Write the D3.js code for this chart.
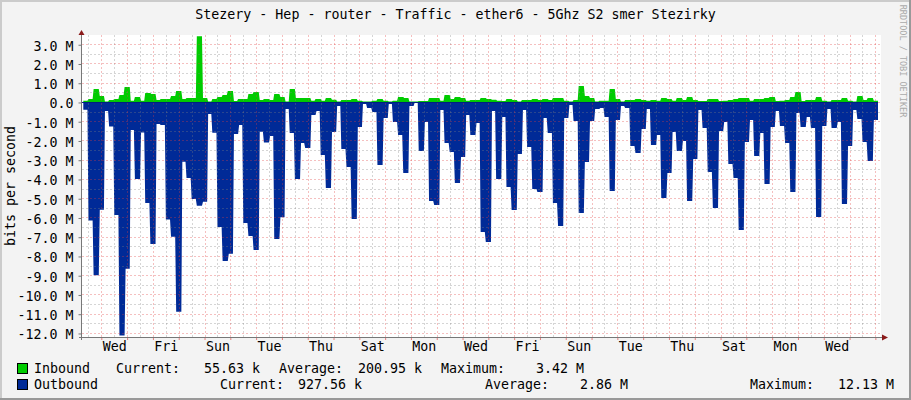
<!DOCTYPE html>
<html>
<head>
<meta charset="utf-8">
<script src="https://cdnjs.cloudflare.com/ajax/libs/d3/7.8.5/d3.min.js"></script>
<style>
  html, body { margin: 0; padding: 0; background: #f3f3f3; }
  svg { display: block; }
  text { font-family: "DejaVu Sans Mono", monospace; font-size: 13.3px; fill: #000; }
</style>
</head>
<body>
<script>
"use strict";

const title = 'Stezery - Hep - router - Traffic - ether6 - 5Ghz S2 smer Stezirky';
const yLabel = 'bits per second';
const watermark = 'RRDTOOL / TOBI OETIKER';

// values in Mbit/s, one per 4.8 hour step
const inbound = [
  0.07, 0.16, 0.68, 0.31, 0.02, 0.10, 0.16, 0.36, 0.78, 0.07, 0.26, 0.07, 0.47, 0.42, 0.10, 0.16,
  0.16, 0.31, 0.57, 0.16, 0.21, 0.21, 3.42, 0.21, 0.03, 0.16, 0.26, 0.36, 0.57, 0.05, 0.16, 0.16,
  0.42, 0.52, 0.10, 0.16, 0.10, 0.42, 0.26, 0.03, 0.68, 0.21, 0.21, 0.21, 0.07, 0.16, 0.07, 0.21,
  0.12, 0.03, 0.10, 0.10, 0.16, 0.07, 0.02, 0.02, 0.07, 0.16, 0.07, 0.02, 0.07, 0.26, 0.21, 0.02,
  0.02, 0.05, 0.05, 0.21, 0.21, 0.07, 0.36, 0.16, 0.26, 0.21, 0.07, 0.10, 0.10, 0.21, 0.16, 0.12,
  0.07, 0.05, 0.16, 0.10, 0.03, 0.10, 0.10, 0.16, 0.10, 0.16, 0.10, 0.21, 0.21, 0.07, 0.02, 0.10,
  0.83, 0.31, 0.21, 0.03, 0.07, 0.07, 0.68, 0.16, 0.03, 0.10, 0.10, 0.16, 0.10, 0.07, 0.10, 0.07,
  0.21, 0.16, 0.07, 0.21, 0.10, 0.26, 0.10, 0.05, 0.05, 0.16, 0.16, 0.05, 0.07, 0.10, 0.16, 0.21,
  0.21, 0.07, 0.16, 0.16, 0.21, 0.26, 0.05, 0.07, 0.10, 0.26, 0.52, 0.05, 0.10, 0.10, 0.26, 0.07,
  0.02, 0.10, 0.10, 0.21, 0.07, 0.02, 0.31, 0.10, 0.21, 0.06
];

const outbound = [
  -0.40, -6.16, -9.00, -5.60, -0.47, -1.28, -5.87, -12.13, -8.66, -1.45, -4.00, -1.58, -5.25, -7.38, -1.14, -1.19,
  -6.11, -7.00, -10.90, -3.10, -3.95, -5.04, -5.39, -5.18, -0.62, -1.60, -6.50, -8.26, -7.88, -1.66, -1.19, -6.29,
  -6.96, -7.69, -1.54, -2.11, -1.77, -7.12, -5.99, -0.36, -1.61, -4.00, -2.13, -2.39, -0.68, -0.47, -2.75, -4.47,
  -1.56, -0.21, -2.44, -3.38, -6.08, -1.30, -0.10, -0.31, -0.52, -3.27, -0.83, -0.10, -1.04, -1.71, -3.69, -0.21,
  -0.05, -2.55, -1.04, -5.14, -5.35, -0.42, -2.13, -2.60, -4.21, -2.86, -0.68, -1.71, -1.09, -6.75, -7.27, -0.47,
  -4.00, -0.78, -4.42, -5.61, -2.70, -0.42, -2.34, -4.52, -4.68, -0.83, -1.61, -5.25, -6.44, -0.83, -0.16, -0.99,
  -5.77, -3.12, -0.99, -0.36, -0.31, -0.78, -4.62, -0.94, -0.21, -0.31, -2.29, -2.65, -1.40, -0.36, -2.23, -1.71,
  -4.99, -3.69, -1.56, -2.55, -2.03, -5.14, -2.96, -0.42, -1.35, -3.64, -5.51, -1.51, -1.04, -3.22, -3.95, -6.65,
  -2.08, -0.94, -2.81, -1.61, -4.26, -1.30, -0.47, -1.25, -2.13, -4.68, -0.57, -1.30, -0.78, -1.35, -5.97, -1.25,
  -0.36, -1.35, -1.04, -5.30, -2.29, -0.42, -0.88, -2.08, -3.06, -0.93
];

const yMajor = d3.range(-12, 4);
const yMinor = d3.range(-12, 3.5, 0.5).filter(v => !Number.isInteger(v));
const dayLabels = ['Wed', 'Fri', 'Sun', 'Tue', 'Thu', 'Sat', 'Mon', 'Wed', 'Fri', 'Sun', 'Tue', 'Thu', 'Sat', 'Mon', 'Wed'];

const width = 911, height = 400;
const plot = {left: 82, right: 881, top: 35, bottom: 337};
const stepsPerDay = 5;
const firstMidnight = 3.49; // in steps from the start of the data

const x = d3.scaleLinear().domain([0, inbound.length]).range([83.3, 878]);
const y = d3.scaleLinear().domain([-12.21, 3.48]).range([plot.bottom, plot.top]);

const midnights = d3.range(0, 31).map(d => firstMidnight + d * stepsPerDay);
const noons = midnights.map(d => d - stepsPerDay / 2).filter(d => x(d) > plot.left)
  .concat([firstMidnight + 30.5 * stepsPerDay].filter(d => x(d) < plot.right));
const labelSteps = dayLabels.map((d, i) => firstMidnight + stepsPerDay / 2 + i * 2 * stepsPerDay);

let svg = d3.select('body').append('svg')
  .attr('width', width)
  .attr('height', height);

// canvas and frame
svg.append('rect').attr('width', width).attr('height', height).attr('fill', '#f3f3f3');
svg.append('path').attr('d', `M0,${height}V0H${width}`).attr('transform', 'translate(1,1)')
  .attr('fill', 'none').attr('stroke', '#cbcbcb').attr('stroke-width', 2);
svg.append('path').attr('d', `M${width},0V${height}H0`).attr('transform', 'translate(-1,-1)')
  .attr('fill', 'none').attr('stroke', '#999').attr('stroke-width', 2);

svg.append('rect')
  .attr('x', plot.left).attr('y', plot.top)
  .attr('width', plot.right - plot.left).attr('height', plot.bottom - plot.top)
  .attr('fill', '#fff');

// areas, the larger step keeps its width and the edge fades out over a pixel on the smaller side
function drawArea(values, colour)
{
  let area = d3.area()
    .x(d => d.px)
    .y0(y(0))
    .y1(d => y(d.v));
  let points = [];
  values.forEach((v, i) => {
    let prev = i ? values[i - 1] : 0;
    let next = i < values.length - 1 ? values[i + 1] : 0;
    points.push({px: x(i) + (i && Math.abs(prev) > Math.abs(v) ? 1 : 0), v: v});
    points.push({px: x(i + 1) - (i < values.length - 1 && Math.abs(next) > Math.abs(v) ? 1 : 0), v: v});
  });
  svg.append('path').attr('d', area(points)).attr('fill', colour);
}

drawArea(outbound, '#002a97');
drawArea(inbound, '#00cc00');

// grid goes over the data
function gridH(values, colour, dash)
{
  svg.append('g').selectAll('line').data(values).enter().append('line')
    .attr('x1', plot.left).attr('x2', plot.right)
    .attr('y1', d => Math.round(y(d)) + 0.5).attr('y2', d => Math.round(y(d)) + 0.5)
    .attr('stroke', colour).attr('stroke-dasharray', dash);
}

function gridV(values, colour, dash)
{
  svg.append('g').selectAll('line').data(values).enter().append('line')
    .attr('x1', d => Math.round(x(d)) + 0.5).attr('x2', d => Math.round(x(d)) + 0.5)
    .attr('y1', plot.top).attr('y2', plot.bottom)
    .attr('stroke', colour).attr('stroke-dasharray', dash);
}

gridH(yMinor, 'rgba(128,128,128,0.33)', '2,2');
gridV(noons, 'rgba(128,128,128,0.33)', '2,2');
gridH(yMajor, 'rgba(224,60,60,0.33)', '2,2');
gridV(midnights.filter(d => x(d) < plot.right), 'rgba(224,60,60,0.33)', '2,2');

// zero line
svg.append('line')
  .attr('x1', plot.left).attr('x2', x(inbound.length))
  .attr('y1', y(0) + 0.5).attr('y2', y(0) + 0.5)
  .attr('stroke', '#002080');

// axes
let yAxis = d3.axisLeft(y)
  .tickValues(yMajor)
  .tickSize(3)
  .tickPadding(5)
  .tickFormat(d => d === 0 ? '0.0' : d3.format('.1f')(d).replace('−', '-') + ' M');

let yGroup = svg.append('g').attr('transform', `translate(${plot.left - 0.5},0.5)`).call(yAxis);
yGroup.select('.domain').remove();
yGroup.selectAll('line').attr('stroke', '#777');
yGroup.selectAll('text').attr('dy', '0.4em').style('font-family', '"DejaVu Sans Mono", monospace').style('font-size', '13.3px');

let xTicks = d3.axisBottom(x)
  .tickValues(midnights.filter(d => x(d) < plot.right))
  .tickSize(3)
  .tickFormat('');
let xTickGroup = svg.append('g').attr('transform', `translate(0,${plot.bottom})`).call(xTicks);
xTickGroup.select('.domain').remove();
xTickGroup.selectAll('line').attr('stroke', '#e08080');

let xLabels = d3.axisBottom(x)
  .tickValues(labelSteps)
  .tickSize(0)
  .tickPadding(5)
  .tickFormat((d, i) => dayLabels[i]);
let xLabelGroup = svg.append('g').attr('transform', `translate(0,${plot.bottom})`).call(xLabels);
xLabelGroup.select('.domain').remove();
xLabelGroup.selectAll('text').style('font-family', '"DejaVu Sans Mono", monospace').style('font-size', '13.3px');

svg.append('line').attr('x1', plot.left - 0.5).attr('x2', plot.left - 0.5).attr('y1', 34).attr('y2', plot.bottom + 3).attr('stroke', '#777');
svg.append('line').attr('x1', plot.left - 3).attr('x2', 884).attr('y1', plot.bottom + 0.5).attr('y2', plot.bottom + 0.5).attr('stroke', '#777');
svg.append('path').attr('d', `M${plot.left - 3.5},35L${plot.left - 0.5},30L${plot.left + 2.5},35Z`).attr('fill', '#8b1a1a');
svg.append('path').attr('d', `M882,${plot.bottom - 2.5}L888,${plot.bottom + 0.5}L882,${plot.bottom + 3.5}Z`).attr('fill', '#8b1a1a');

// titles
svg.append('text').attr('x', 455.5).attr('y', 19).attr('text-anchor', 'middle').text(title);
svg.append('text').attr('transform', 'translate(15,186) rotate(-90)').attr('text-anchor', 'middle').text(yLabel);
svg.append('text').attr('transform', 'translate(900,61) rotate(90)').attr('text-anchor', 'middle')
  .style('font-size', '8.5px').style('fill', '#aaa').text(watermark);

// legend
function legendText(xPos, yPos, str)
{
  svg.append('text').attr('x', xPos).attr('y', yPos).text(str);
}

function swatch(yPos, colour)
{
  svg.append('rect').attr('x', 17.5).attr('y', yPos + 0.5).attr('width', 10).attr('height', 10)
    .attr('fill', colour).attr('stroke', '#000');
}

swatch(363, '#00cc00');
swatch(379, '#002a97');

legendText(34, 373, 'Inbound');
legendText(116, 373, 'Current:');
legendText(204, 373, '55.63 k');
legendText(279, 373, 'Average:');
legendText(358, 373, '200.95 k');
legendText(441, 373, 'Maximum:');
legendText(536, 373, '3.42 M');

legendText(34, 389, 'Outbound');
legendText(220, 389, 'Current:');
legendText(298, 389, '927.56 k');
legendText(485, 389, 'Average:');
legendText(580, 389, '2.86 M');
legendText(750, 389, 'Maximum:');
legendText(838, 389, '12.13 M');
</script>
</body>
</html>
